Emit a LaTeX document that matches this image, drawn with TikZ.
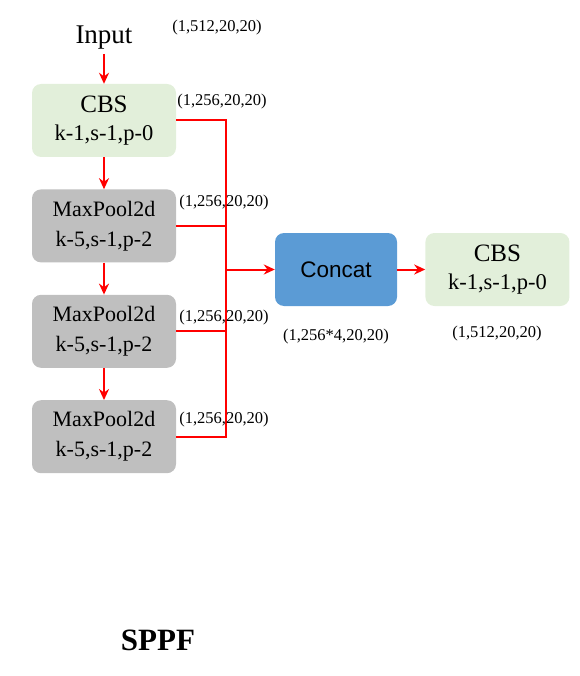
\documentclass[tikz,border=0pt]{standalone}
\usepackage{fontspec}
\setmainfont{Liberation Serif}
\newfontfamily\arialfont{Liberation Sans}
\usetikzlibrary{positioning,arrows.meta}
\definecolor{cbsgreen}{HTML}{E2EFDA}
\definecolor{poolgray}{HTML}{BFBFBF}
\definecolor{catblue}{HTML}{5B9BD5}
\newcommand{\cbstext}{{\fontsize{25}{28}\selectfont CBS}\\k-1,s-1,p-0}
\newcommand{\pooltext}{MaxPool2d\\k-5,s-1,p-2}

\begin{document}
\begin{tikzpicture}[x=1pt,y=-1pt,>={Stealth[length=11pt,width=10pt]},
  cbs/.style={rectangle,rounded corners=9pt,fill=cbsgreen,minimum width=144pt,minimum height=73pt,align=center,inner sep=0pt,font=\fontsize{22.5}{28}\selectfont},
  pool/.style={cbs,fill=poolgray,font=\fontsize{22}{30}\selectfont},
  cat/.style={cbs,fill=catblue,minimum width=122pt,font=\arialfont\fontsize{22.5}{26}\selectfont},
  dim/.style={font=\fontsize{16.5}{18}\selectfont,inner sep=0pt},
  ln/.style={red,line width=2pt},
  ar/.style={ln,->}]
\useasboundingbox (0,0) rectangle (579,676);
\node[anchor=base,inner sep=4pt,font=\fontsize{27}{30}\selectfont] (input) at (104,44) {Input};
\node[cbs] (cbs1) at (104,120.5) {\cbstext};
\node[pool,below=32pt of cbs1] (mp1) {\pooltext};
\node[pool,below=32pt of mp1] (mp2) {\pooltext};
\node[pool,below=32pt of mp2] (mp3) {\pooltext};
\node[cat] (concat) at (336,269.5) {Concat};
\node[cbs,right=28pt of concat] (cbs2) {\cbstext};
\coordinate (bus) at (226,0);
% main chain
\draw[ar] (input) -- (cbs1);
\draw[ar] (cbs1) -- (mp1);
\draw[ar] (mp1) -- (mp2);
\draw[ar] (mp2) -- (mp3);
% branches into concat
\draw[ln] (cbs1.east) -- (cbs1.east -| bus) -- (mp3.east -| bus) -- (mp3.east);
\draw[ln] (mp1.east) -- (mp1.east -| bus);
\draw[ln] (mp2.east) -- (mp2.east -| bus);
\draw[ar] (concat.west -| bus) -- (concat);
\draw[ar] (concat) -- (cbs2);
% shapes
\node[dim] (d0) at (217,28) {(1,512,20,20)};
\node[dim] (d1) at (222,102) {(1,256,20,20)};
\node[dim] (d2) at (224,203) {(1,256,20,20)};
\node[dim] (d3) at (224,318) {(1,256,20,20)};
\node[dim] (d4) at (224,420) {(1,256,20,20)};
\node[dim] (d5) at (336,337) {(1,256*4,20,20)};
\node[dim] (d6) at (497,334) {(1,512,20,20)};
\node[font=\bfseries\fontsize{31}{34}\selectfont] (title) at (158,640) {SPPF};
\end{tikzpicture}
\end{document}
